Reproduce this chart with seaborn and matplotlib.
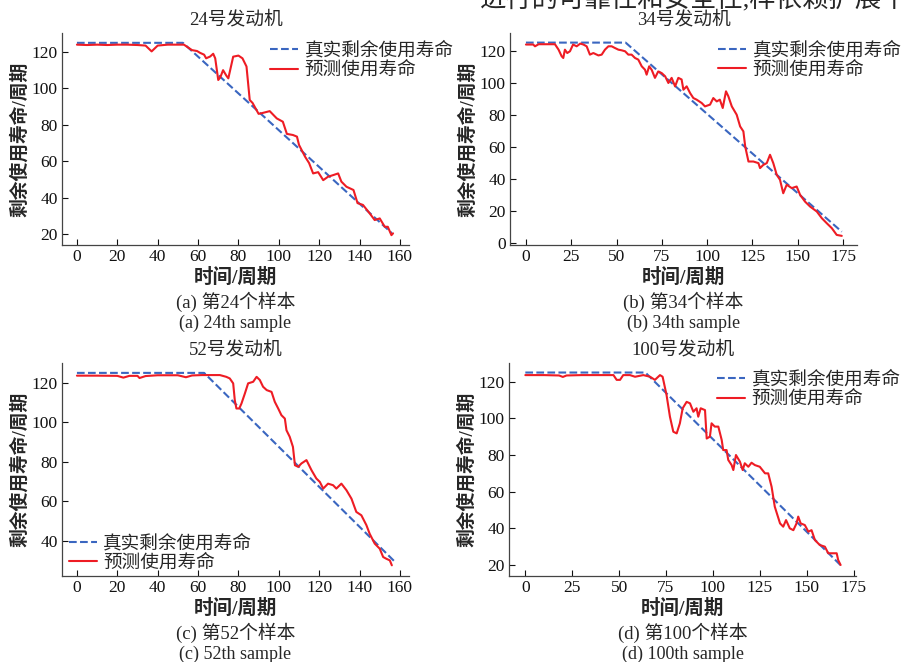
import matplotlib
matplotlib.use("Agg")
import matplotlib.pyplot as plt
import seaborn as sns
import pandas as pd

# ---------------- data ----------------
titles = ["24号发动机", "34号发动机", "52号发动机", "100号发动机"]
captions_cn = ["(a) 第24个样本", "(b) 第34个样本", "(c) 第52个样本", "(d) 第100个样本"]
captions_en = ["(a) 24th sample", "(b) 34th sample", "(c) 52th sample", "(d) 100th sample"]
legend_labels = ["真实剩余使用寿命", "预测使用寿命"]
xlabel = "时间/周期"
ylabel = "剩余使用寿命/周期"

# true RUL (breakpoints)
true_x_a = [0, 52.5, 156]
true_y_a = [125, 125, 20.5]
true_x_b = [0, 55, 174.3]
true_y_b = [125, 125, 7]
true_x_c = [0, 63, 157]
true_y_c = [125, 125, 30]
true_x_d = [0, 64, 168]
true_y_d = [125, 125, 20]

# predicted RUL
pred_x_a = [0, 5, 10, 15, 20, 25, 30, 34, 37, 40, 45, 50, 53, 57, 59.5, 61, 63, 64, 66, 67.5,
            68.5, 70, 71, 72.4, 74, 75, 77.4, 80, 82, 84, 85.6, 87, 90, 92, 95.5, 99, 102, 104,
            107, 109, 110, 113, 115, 117, 119.5, 122, 124.4, 127, 129.4, 131, 133.5, 137, 139,
            141.7, 145, 147.5, 150, 152.5, 154, 155.8, 156.6]
pred_y_a = [124, 123.8, 124, 123.8, 124, 124, 123.8, 123.5, 120.3, 123.5, 124, 124, 124, 121,
            120.5, 119.5, 118.5, 116.5, 117.5, 119, 116.5, 104.6, 106, 110, 107, 105.5, 117.4,
            118, 116.5, 112, 93.6, 92, 86, 86.5, 87.5, 83.5, 81.7, 75, 74.4, 73.5, 69, 62.5, 59,
            53.3, 54, 49.6, 51.5, 52.4, 53.3, 48.8, 46, 44.2, 37, 36, 31.4, 27.7, 28.6, 24, 24,
            19.4, 20.4]

pred_x_b = [0, 4, 5, 7, 13, 16, 18, 19.7, 20.6, 21.5, 22.8, 24.3, 26, 28, 30, 31.7, 33.5, 35.3,
            37.2, 40, 41.8, 43.6, 45.5, 47.3, 49, 51, 52.8, 54.7, 56.5, 58.3, 60.2, 62, 63.9,
            65.7, 66.6, 68, 69.4, 71.2, 73, 74.9, 76.8, 78.6, 80.4, 82.3, 84.1, 85.9, 86.9, 88.7,
            90.6, 92.4, 94.2, 97, 98.8, 101.6, 103.4, 105.3, 107, 108.6, 110.4, 111.7, 113.6,
            116.3, 118.2, 120, 121, 122.8, 125.5, 128.3, 129.2, 131, 132.9, 134.7, 136.5, 138.4,
            140.2, 142, 143.9, 146.7, 149.4, 151.3, 154, 156.8, 160.5, 163.3, 166, 168.8, 171.5,
            174.3]
pred_y_b = [123.8, 123.8, 122.7, 124, 124, 124, 120.6, 116.5, 115.4, 120.6, 118.5, 119.6, 123.8,
            122.7, 124.4, 123.8, 122.7, 117.5, 118.5, 117, 117.5, 120.6, 122.7, 122.7, 121.7,
            120.6, 120.2, 119.6, 117.5, 117.5, 115.4, 114.4, 110.2, 108.1, 105, 110.2, 108, 103,
            107, 106, 104, 99.8, 103, 97.7, 103, 102, 95.6, 97.7, 93.5, 90.4, 89.4, 87.3, 85.2,
            86.3, 90.4, 88.3, 89.4, 84.2, 94.6, 91.5, 85.2, 80, 72.7, 69.6, 60.2, 50.8, 50.8,
            49.8, 46.7, 48.7, 49.8, 55, 49.8, 42.5, 39.4, 31, 36.3, 34.2, 35.2, 30, 25.8, 22.7,
            19.6, 15.4, 12.3, 9.2, 5, 4.4]

pred_x_c = [0, 10, 20, 23, 26, 30, 31, 34, 40, 50, 54, 57, 62, 66, 70.8, 74, 75.7, 77.4, 78.2,
            79, 80.4, 81.5, 83.2, 84.8, 87.3, 89, 90.6, 92.2, 94, 96.4, 98, 99.7, 101.3, 103,
            103.8, 105.4, 107, 108, 109.6, 111.2, 113.7, 116.2, 118.6, 120.3, 122, 124.4, 126.9,
            128.5, 131, 133.5, 136, 138.4, 140.9, 143.4, 145, 147.5, 150, 151.7, 153.3, 155, 156]
pred_y_c = [123.6, 123.6, 123.5, 122.6, 123.5, 123.5, 122.4, 123.4, 123.8, 123.8, 122.8, 123.7,
            123.9, 123.9, 123.9, 123, 122.2, 119.7, 111.2, 107, 107, 109.5, 114.6, 119.7, 120.5,
            123, 121.4, 118, 116.3, 115.4, 110.4, 107, 103.6, 101.9, 96, 92.7, 87.6, 78.3, 77.5,
            79.2, 80.9, 75.8, 71.6, 69.9, 66.5, 69, 68.2, 66.5, 69, 65.7, 61.4, 54.7, 53, 48,
            43.7, 38.7, 36.1, 31.9, 31, 30.2, 27.7]

pred_x_d = [0, 10, 18, 20, 22, 30, 40, 47, 48.7, 50.5, 52.2, 55.8, 58.5, 62.9, 66.5, 69.1, 71.8,
            73.2, 75.3, 77.1, 78.9, 80.7, 82.4, 83.9, 86, 87.8, 89.6, 91.3, 92.2, 93.5, 95.8,
            96.7, 98.4, 99.3, 101, 102.9, 104.7, 105.5, 107.3, 108.2, 110, 110.9, 112.3, 114.4,
            115.9, 117, 118.9, 120.6, 122.4, 125, 127.8, 129.5, 131.3, 133, 135.8, 137.5, 139,
            141, 142.9, 144.6, 145.5, 146.8, 149, 150.9, 152.6, 154.4, 157, 159.7, 161.5, 164.2,
            166, 166.8, 168.1]
pred_y_d = [123.6, 123.6, 123.4, 122.6, 123.4, 123.6, 123.6, 123.6, 121, 121, 123.6, 123.6,
            122.7, 123.6, 122.7, 121, 123.6, 122.7, 112.7, 100.9, 92.7, 91.8, 97.3, 105.5, 109,
            108.2, 103.6, 105.5, 100.9, 105.5, 104.5, 89, 90, 97.3, 95.5, 95.5, 88.2, 82.7, 82.7,
            77.3, 74.5, 71.8, 80, 76.4, 71.8, 75.5, 73.6, 75.8, 74.5, 73.6, 70, 70, 62.7, 51.8,
            42.7, 40.9, 44.5, 40, 39, 42.7, 46.4, 42.7, 41.8, 38.2, 39, 33.6, 30.9, 30, 26.4,
            26.4, 26.4, 22.7, 20]

true_x = [true_x_a, true_x_b, true_x_c, true_x_d]
true_y = [true_y_a, true_y_b, true_y_c, true_y_d]
pred_x = [pred_x_a, pred_x_b, pred_x_c, pred_x_d]
pred_y = [pred_y_a, pred_y_b, pred_y_c, pred_y_d]

xticks = [list(range(0, 161, 20)), list(range(0, 176, 25)), list(range(0, 161, 20)), list(range(0, 176, 25))]
yticks = [list(range(20, 121, 20)), list(range(0, 121, 20)), list(range(40, 121, 20)), list(range(20, 121, 20))]
xlims = [(-7.4, 164.5), (-8.8, 182.7), (-7.4, 164.5), (-8.7, 176.3)]
ylims = [(14, 130.4), (-1.3, 131), (22.3, 130), (14, 130.2)]

# ---------------- style ----------------
sns.set_theme(style="ticks")
FAM = ["Liberation Serif", "Noto Sans CJK SC"]
plt.rcParams["font.family"] = FAM
plt.rcParams["axes.unicode_minus"] = False

fig = plt.figure(figsize=(9.01, 6.62), dpi=100)
W, H = 901, 662
# axes boxes in pixels: left, top, right, bottom
boxes = [(62, 33, 409, 245), (510, 33, 857, 245), (62, 363, 409, 576), (509, 363, 856, 576)]
legend_pos = [("upper left", (0.60, 0.957)), ("upper left", (0.60, 0.96)),
              ("lower left", (0.02, 0.02)), ("upper left", (0.60, 0.962))]

BLUE = "#3a66c0"
RED = "#ee1c24"

for i in range(4):
    l, t, r, b = boxes[i]
    ax = fig.add_axes([l / W, 1 - b / H, (r - l) / W, (b - t) / H])
    dt = pd.DataFrame({"x": true_x[i], "y": true_y[i]})
    dp = pd.DataFrame({"x": pred_x[i], "y": pred_y[i]})
    sns.lineplot(data=dt, x="x", y="y", ax=ax, color=BLUE, linestyle="--", linewidth=1.5,
                 label=legend_labels[0], sort=False, estimator=None)
    sns.lineplot(data=dp, x="x", y="y", ax=ax, color=RED, linewidth=1.5,
                 label=legend_labels[1], sort=False, estimator=None)
    ax.set_xlim(*xlims[i])
    ax.set_ylim(*ylims[i])
    ax.set_xticks(xticks[i])
    ax.set_yticks(yticks[i])
    ax.tick_params(direction="in", length=4, width=0.8, labelsize=12.5, colors="#111111",
                   pad=3)
    for lab in ax.get_xticklabels() + ax.get_yticklabels():
        lab.set_family(FAM)
    for s in ["top", "right"]:
        ax.spines[s].set_visible(False)
    for s in ["left", "bottom"]:
        ax.spines[s].set_color("#444444")
        ax.spines[s].set_linewidth(0.9)
    ax.set_xlabel(xlabel, fontsize=14, family=FAM, fontweight="bold", labelpad=2)
    ax.set_ylabel(ylabel, fontsize=13.5, family=FAM, fontweight="bold", labelpad=2)
    ax.set_title(titles[i], fontsize=13.5, family=FAM, pad=6)
    loc, anchor = legend_pos[i]
    leg = ax.legend(loc=loc, bbox_to_anchor=anchor, frameon=False,
                    handlelength=1.5, handletextpad=0.35, borderpad=0, borderaxespad=0,
                    labelspacing=0.1, prop={"family": FAM, "size": 13.4})
    cx = (l + r) / 2 / W
    fig.text(cx, 1 - (b + 57) / H, captions_cn[i], ha="center", va="center",
             fontsize=13.5, family=FAM)
    fig.text(cx, 1 - (b + 78) / H, captions_en[i], ha="center", va="center",
             fontsize=13, family=FAM)

# partially cropped text line at top of page (cut off in the source image too)
fig.text(0.533, 1 - 7 / H, "进行的可靠性和安全性,样依赖扩展个", ha="left", va="baseline",
         fontsize=19, family=FAM)

fig.savefig("out.png", dpi=100)
